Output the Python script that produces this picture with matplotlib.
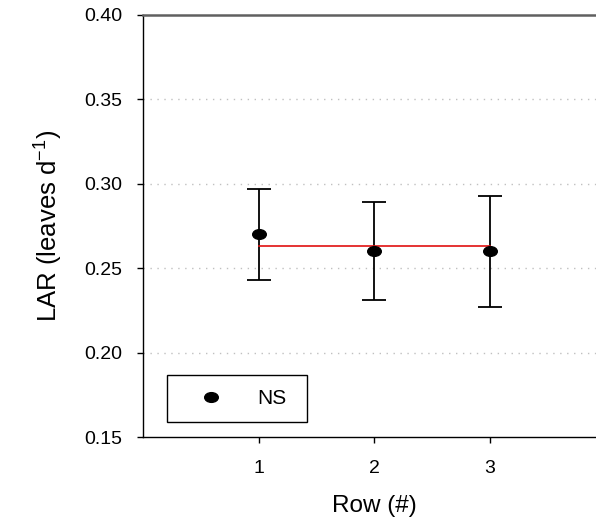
import matplotlib
matplotlib.use("Agg")
import matplotlib.pyplot as plt
from matplotlib.lines import Line2D
from matplotlib.path import Path
from matplotlib.transforms import Affine2D
from matplotlib.patches import Rectangle

plt.rcParams['font.family'] = ['Liberation Sans', 'DejaVu Sans']

rows = [1, 2, 3]
lar = [0.270, 0.260, 0.260]
err_lo = [0.027, 0.029, 0.033]
err_hi = [0.027, 0.029, 0.033]
mean_line = 0.2633
yticks = [0.15, 0.20, 0.25, 0.30, 0.35, 0.40]
grid_vals = [0.20, 0.25, 0.30, 0.35]

# slightly wide elliptical dot, as in the reference
ell = Path.unit_circle().transformed(Affine2D().scale(1.4, 1.0))

fig = plt.figure(figsize=(5.96, 5.23), dpi=100)
W, H = 596, 523
ax_l, ax_b, ax_r, ax_t = 143, 437, 605.5, 15
aw, ah = ax_r - ax_l, ax_b - ax_t
ax = fig.add_axes([ax_l / W, 1 - ax_b / H, aw / W, ah / H])

for g in grid_vals:
    ax.axhline(g, color='#c0c0c0', lw=1.0, ls=(0, (1, 4)), zorder=0)

ax.errorbar(rows, lar, yerr=[err_lo, err_hi], fmt='none', ecolor='black',
            elinewidth=1.3, capsize=8.5, capthick=1.3, zorder=2)
ax.plot([rows[0], rows[-1]], [mean_line, mean_line], color='#e01010', lw=1.2, zorder=3)
ax.plot(rows, lar, ls='none', marker=ell, color='black', markersize=9.8, zorder=4)

ax.set_xlim(0, 4)
ax.set_ylim(0.15, 0.40)
ax.set_xticks(rows)
ax.set_xticklabels([str(r) for r in rows])
ax.set_yticks(yticks)
ax.set_yticklabels([f"{v:.2f}" for v in yticks])
ax.tick_params(axis='both', direction='out', length=4.5, width=1, labelsize=14)
ax.tick_params(axis='y', pad=10.5)
ax.tick_params(axis='x', pad=12)

ax.spines['right'].set_visible(False)
ax.spines['top'].set_color('#606060')
ax.spines['top'].set_linewidth(1.8)
ax.spines['left'].set_linewidth(1.0)
ax.spines['bottom'].set_linewidth(1.0)

ax.set_xlabel('Row (#)', fontsize=17.5, labelpad=13)
ax.set_ylabel('LAR (leaves d$^{\\mathregular{-1}}$)', fontsize=18.5)
ax.yaxis.set_label_coords((64 - ax_l) / aw, 0.5)

# legend frame
ax.add_patch(Rectangle(((167 - ax_l) / aw, (ax_b - 422) / ah), 140 / aw, 47 / ah,
                       transform=ax.transAxes, fill=False, edgecolor='black',
                       lw=1.0, zorder=5))
handle = Line2D([], [], marker=ell, color='black', ls='none', markersize=9.8)
fs_leg = 15
hl = 1.0
leg = ax.legend([handle], ['NS'], loc='center left',
                bbox_to_anchor=((211 - hl * fs_leg * 100 / 72 / 2 - ax_l) / aw,
                                (ax_b - 398.5) / ah),
                borderaxespad=0, borderpad=0, frameon=False, fontsize=fs_leg,
                handlelength=hl, handletextpad=1.7)

fig.savefig('out.png', dpi=100)
